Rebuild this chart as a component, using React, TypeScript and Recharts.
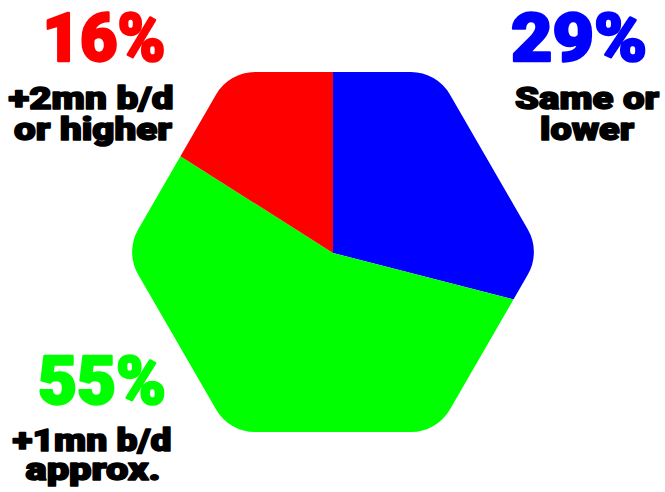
import { Cell, Pie, PieChart } from 'recharts'

const W = 665
const H = 492

const categories = ['Same or lower', '+1mn b/d approx.', '+2mn b/d or higher']
const shares = [29, 55, 16]
const colors = ['#0000ff', '#00ff00', '#ff0000']

const data = categories.map((name, i) => ({ name, value: shares[i] }))

// hexagon frame (flat top) used to clip the pie
const CX = 333
const CY = 252
const HALF_H = 180
const CORNER = 45

function hexPath() {
  const s = (2 * HALF_H) / Math.sqrt(3)
  const v = [
    [CX - s, CY],
    [CX - s / 2, CY - HALF_H],
    [CX + s / 2, CY - HALF_H],
    [CX + s, CY],
    [CX + s / 2, CY + HALF_H],
    [CX - s / 2, CY + HALF_H],
  ]
  const d = CORNER / Math.tan(Math.PI / 3)
  const pts = v.map((p, i) => {
    const prev = v[(i + 5) % 6]
    const next = v[(i + 1) % 6]
    const toward = (q: number[]) => {
      const dx = q[0] - p[0]
      const dy = q[1] - p[1]
      const len = Math.hypot(dx, dy)
      return [p[0] + (dx / len) * d, p[1] + (dy / len) * d]
    }
    return { a: toward(prev), b: toward(next) }
  })
  const f = (n: number) => n.toFixed(2)
  let out = `M ${f(pts[0].b[0])} ${f(pts[0].b[1])}`
  for (let k = 1; k <= 6; k++) {
    const c = pts[k % 6]
    out += ` L ${f(c.a[0])} ${f(c.a[1])} A ${CORNER} ${CORNER} 0 0 1 ${f(c.b[0])} ${f(c.b[1])}`
  }
  return out + ' Z'
}

const FONT = 'Roboto, "Noto Sans", sans-serif'

function Pct({ x, y, i, w }: { x: number; y: number; i: number; w: number }) {
  return (
    <text
      x={x}
      y={y}
      fontSize={67}
      fill={colors[i]}
      stroke={colors[i]}
      strokeWidth={2.4}
      strokeLinejoin="round"
      textLength={w}
      lengthAdjust="spacingAndGlyphs"
    >
      {shares[i]}%
    </text>
  )
}

function Line({ x, y, w, t }: { x: number; y: number; w: number; t: string }) {
  return (
    <text
      x={x}
      y={y}
      fontSize={32}
      fill="#000"
      stroke="#000"
      strokeWidth={1.6}
      strokeLinejoin="round"
      textLength={w}
      lengthAdjust="spacingAndGlyphs"
    >
      {t}
    </text>
  )
}

export default function App() {
  const clip = hexPath()
  return (
    <div style={{ position: 'absolute', left: 0, top: 0, width: W, height: H, background: '#fff' }}>
      <div style={{ position: 'absolute', left: 0, top: 0, width: W, height: H, clipPath: `path('${clip}')` }}>
        <PieChart width={W} height={H} margin={{ top: 0, right: 0, bottom: 0, left: 0 }}>
          <Pie
            data={data}
            dataKey="value"
            nameKey="name"
            cx={CX}
            cy={CY + 1}
            innerRadius={0}
            outerRadius={250}
            startAngle={90}
            endAngle={-270}
            stroke="none"
            isAnimationActive={false}
          >
            {data.map((d, i) => (
              <Cell key={d.name} fill={colors[i]} />
            ))}
          </Pie>
        </PieChart>
      </div>
      <svg
        width={W}
        height={H}
        style={{ position: 'absolute', left: 0, top: 0, pointerEvents: 'none' }}
        fontFamily={FONT}
        fontWeight={900}
        textAnchor="middle"
      >
        <Pct x={104} y={61} i={2} w={123} />
        <Line x={91} y={109} w={165} t="+2mn b/d" />
        <Line x={93} y={140} w={158} t="or higher" />

        <Pct x={579} y={61} i={0} w={136} />
        <Line x={587} y={109} w={144} t="Same or" />
        <Line x={587} y={140} w={94} t="lower" />

        <Pct x={102} y={404} i={1} w={128} />
        <Line x={92} y={451} w={159} t="+1mn b/d" />
        <Line x={93} y={480} w={135} t="approx." />
      </svg>
    </div>
  )
}
